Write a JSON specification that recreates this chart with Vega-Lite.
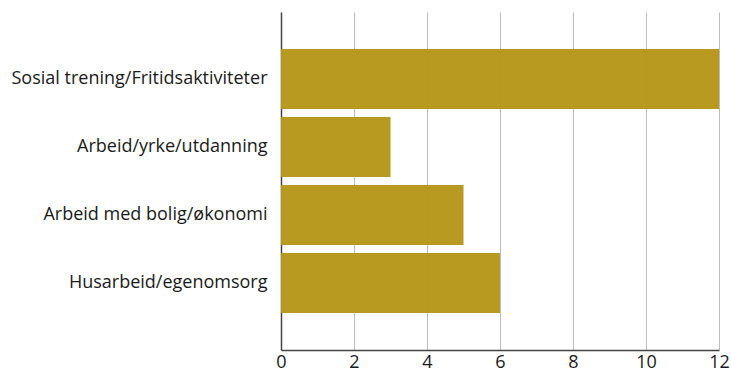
{
  "$schema": "https://vega.github.io/schema/vega-lite/v6.json",
  "width": 438,
  "height": 338,
  "autosize": "none",
  "padding": {"left": 281, "top": 12, "right": 12, "bottom": 23},
  "background": "white",
  "data": {
    "values": [
      {"kategori": "Sosial trening/Fritidsaktiviteter", "antall": 12},
      {"kategori": "Arbeid/yrke/utdanning", "antall": 3},
      {"kategori": "Arbeid med bolig/økonomi", "antall": 5},
      {"kategori": "Husarbeid/egenomsorg", "antall": 6}
    ]
  },
  "config": {
    "font": "Open Sans",
    "view": {"stroke": null}
  },
  "mark": {"type": "bar", "color": "#B7971A", "opacity": 0.97},
  "encoding": {
    "y": {
      "field": "kategori",
      "type": "nominal",
      "sort": null,
      "title": null,
      "scale": {"paddingInner": 0.1176, "paddingOuter": 0.544},
      "axis": {
        "ticks": false,
        "labelFontSize": 18,
        "labelColor": "#1a1a1a",
        "labelPadding": 14,
        "labelLimit": 300,
        "domainColor": "#444",
        "domainWidth": 1.5
      }
    },
    "x": {
      "field": "antall",
      "type": "quantitative",
      "title": null,
      "scale": {"domain": [0, 12], "nice": false},
      "axis": {
        "values": [0, 2, 4, 6, 8, 10, 12],
        "ticks": false,
        "grid": true,
        "gridColor": "#bdbdbd",
        "gridWidth": 1,
        "labelFontSize": 18,
        "labelColor": "#1a1a1a",
        "labelPadding": 3,
        "labelFlush": false,
        "domainColor": "#444",
        "domainWidth": 1.5
      }
    }
  }
}
